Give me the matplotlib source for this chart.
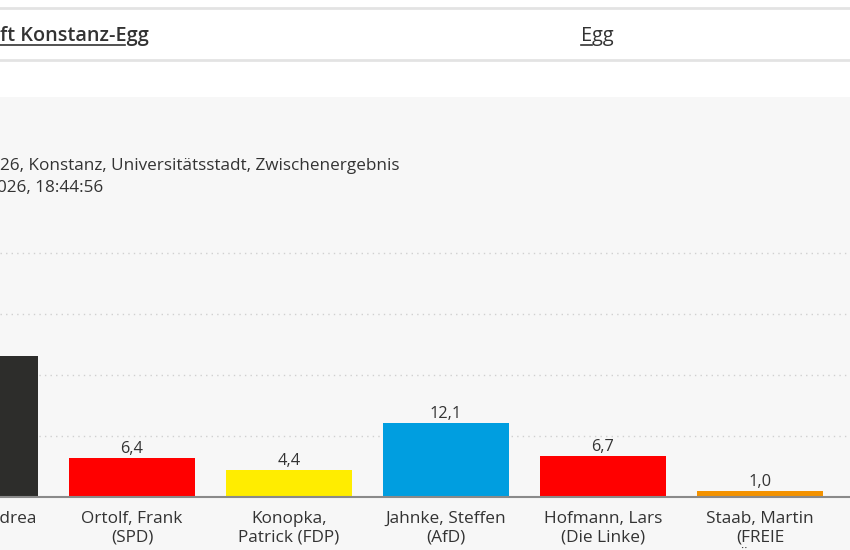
import matplotlib.pyplot as plt
from matplotlib.patches import Rectangle
from matplotlib.lines import Line2D

plt.rcParams['font.family'] = ['Open Sans', 'DejaVu Sans']

# Data (leftmost bar is cut off at the left edge);
candidates = ["Kerner, Andrea\n(CDU)", "Ortolf, Frank\n(SPD)", "Konopka,\nPatrick (FDP)",
              "Jahnke, Steffen\n(AfD)", "Hofmann, Lars\n(Die Linke)", "Staab, Martin\n(FREIE\nWÄHLER)"]
values = [23.1, 6.4, 4.4, 12.1, 6.7, 1.0]
colors = ["#2d2d2b", "#ff0000", "#ffed00", "#009ee0", "#ff0000", "#f39200"]
grid_ticks = [10, 20, 30, 40]

header_left = "ft Konstanz-Egg"
header_right = "Egg"
subtitle_1 = "26, Konstanz, Universitätsstadt, Zwischenergebnis"
subtitle_2 = "026, 18:44:56"

W, H = 850, 550
fig = plt.figure(figsize=(W / 100, H / 100), dpi=100)
fig.patch.set_facecolor("white")

# Page chrome: grey panel and the two header rules;
fig.add_artist(Rectangle((0, 0), 1, (H - 97) / H, transform=fig.transFigure,
                         facecolor="#f7f7f7", edgecolor="none", zorder=0))
for y in (8, 60):
    fig.add_artist(Line2D([0, 1], [1 - y / H] * 2, transform=fig.transFigure,
                          color="#e3e3e3", lw=2))

txt_color = "#333333"
fig.text(0 / W, 1 - 36 / H, header_left, fontsize=14.3, fontweight="semibold",
         color=txt_color, va="center", ha="left")
fig.text(581 / W, 1 - 36 / H, header_right, fontsize=14.3,
         color=txt_color, va="center", ha="left")
fig.add_artist(Line2D([0, 125 / W], [1 - 45 / H] * 2, transform=fig.transFigure,
                      color=txt_color, lw=1.2))
fig.add_artist(Line2D([581 / W, 592 / W], [1 - 45 / H] * 2, transform=fig.transFigure,
                      color=txt_color, lw=1.2))

fig.text(0 / W, 1 - 166 / H, subtitle_1, fontsize=12.3, color=txt_color, va="center")
fig.text(-3 / W, 1 - 188 / H, subtitle_2, fontsize=12.3, color=txt_color, va="center")

# Chart axes: baseline at y=497px, 0..50 spans 305px;
ax = fig.add_axes([0, (H - 497) / H, 1, 305 / H])
ax.set_facecolor("none")
x = list(range(len(values)))
ax.bar(x, values, width=126 / 157, color=colors, zorder=2)
ax.set_ylim(0, 50)
ax.set_yticks(grid_ticks)
ax.yaxis.grid(True, linestyle=(0, (1, 3)), color="#d0d0d0", lw=1)
ax.tick_params(axis="y", left=False, labelleft=False)
ax.set_xticks([])
ax.set_xlim(25 / 157, 875 / 157)
for s in ("top", "left", "right"):
    ax.spines[s].set_visible(False)
ax.spines["bottom"].set_color("#8a8a8a")
ax.spines["bottom"].set_linewidth(1.5)
ax.spines["bottom"].set_zorder(3)

for xi, v, name in zip(x, values, candidates):
    ax.annotate(f"{v:.1f}".replace(".", ","), (xi, v), xytext=(0, 0.5),
                textcoords="offset points", ha="center", va="bottom",
                fontsize=11.8, color=txt_color, annotation_clip=False)
    ax.annotate(name, (xi, 0), xytext=(0, -10), textcoords="offset points",
                ha="center", va="top", fontsize=12.4, color=txt_color,
                linespacing=1.25, annotation_clip=False)

fig.savefig("out.png", dpi=100)
